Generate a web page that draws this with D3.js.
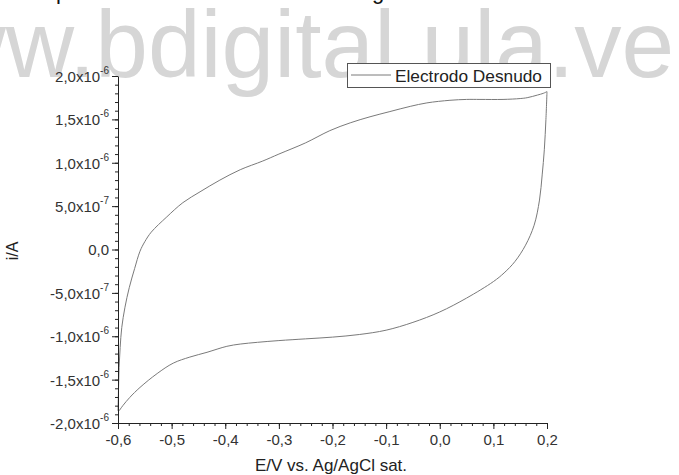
<!DOCTYPE html>
<html lang="es">
<head>
<meta charset="UTF-8">
<title>Electrodo Desnudo</title>
<style>
  body { margin: 0; padding: 0; background: #fff; }
  svg text { font-family: "Liberation Sans", Arial, Helvetica, sans-serif; }
</style>
</head>
<body>
<div id="chart"></div>
<script src="https://cdn.jsdelivr.net/npm/d3@7"></script>
<script>
// barrido directo (E en V, i en µA)
const upperE = [-0.600, -0.599, -0.598, -0.596, -0.593, -0.587, -0.579, -0.569, -0.559, -0.550,
                -0.538, -0.509, -0.479, -0.447, -0.410, -0.372, -0.330, -0.300, -0.250, -0.205,
                -0.167, -0.130, -0.093, -0.055, -0.024, 0.019, 0.050, 0.075, 0.118, 0.150,
                0.163, 0.182, 0.193, 0.200];
const upperI = [-1.86, -1.60, -1.36, -1.13, -0.90, -0.665, -0.44, -0.22, -0.02, 0.09,
                0.20, 0.376, 0.54, 0.665, 0.80, 0.92, 1.02, 1.10, 1.23, 1.37,
                1.46, 1.53, 1.59, 1.65, 1.69, 1.72, 1.73, 1.73, 1.73, 1.74,
                1.75, 1.78, 1.80, 1.82];
// barrido inverso
const lowerE = [0.200, 0.198, 0.195, 0.191, 0.186, 0.176, 0.160, 0.140, 0.120, 0.100,
                0.050, 0.000, -0.050, -0.100, -0.150, -0.200, -0.250, -0.300, -0.340, -0.372,
                -0.397, -0.434, -0.466, -0.497, -0.527, -0.559, -0.578, -0.591, -0.598];
const lowerI = [1.82, 1.50, 1.15, 0.86, 0.57, 0.28, 0.05, -0.14, -0.27, -0.37,
                -0.56, -0.72, -0.84, -0.93, -0.98, -1.01, -1.03, -1.05, -1.07, -1.09,
                -1.116, -1.185, -1.24, -1.31, -1.43, -1.59, -1.705, -1.80, -1.86];

const xTicks = [-0.6, -0.5, -0.4, -0.3, -0.2, -0.1, 0.0, 0.1, 0.2];
const yTicks = [-2e-6, -1.5e-6, -1e-6, -5e-7, 0, 5e-7, 1e-6, 1.5e-6, 2e-6];
const seriesName = "Electrodo Desnudo";
const xTitle = "E/V vs. Ag/AgCl sat.";
const yTitle = "i/A";

const w = 679, h = 475;
const svg = d3.select("#chart").append("svg").attr("width", w).attr("height", h);

// marca de agua y restos del texto de la pagina
svg.append("text").attr("x", -131).attr("y", 77)
  .attr("font-size", 94.7).attr("fill", "#d6d6d6")
  .text("www.bdigital.ula.ve");
svg.append("text").attr("x", 56).attr("y", -1).attr("font-size", 22).attr("fill", "#111").text("p");
svg.append("text").attr("x", 372).attr("y", -1).attr("font-size", 22).attr("fill", "#111").text("g");

const x = d3.scaleLinear().domain([-0.6, 0.2]).range([118, 547]);
const y = d3.scaleLinear().domain([-2e-6, 2e-6]).range([423, 76]);

const pts = upperE.map((e, i) => [e, upperI[i] * 1e-6])
  .concat(lowerE.map((e, i) => [e, lowerI[i] * 1e-6]));

const line = d3.line().x(d => x(d[0])).y(d => y(d[1])).curve(d3.curveCatmullRom.alpha(0.5));
svg.append("path").datum(pts).attr("d", line)
  .attr("fill", "none").attr("stroke", "#7a7a7a").attr("stroke-width", 1);

const fmtX = v => (Math.abs(v) < 1e-9 ? "0,0" : d3.format(".1f")(v).replace(".", ",").replace("−", "-"));

// eje x
const xMinor = d3.range(-0.6, 0.2001, 0.02);
svg.append("g").attr("transform", "translate(0,423)")
  .call(d3.axisBottom(x).tickValues(xMinor).tickSize(3).tickFormat(""))
  .call(g => g.select(".domain").remove());
svg.append("g").attr("transform", "translate(0,423)")
  .call(d3.axisBottom(x).tickValues(xTicks).tickSize(6).tickSizeOuter(0).tickFormat(fmtX).tickPadding(5))
  .call(g => g.selectAll("text").attr("font-size", 15).attr("fill", "#333").attr("font-family", null));

// eje y
const yMinor = d3.range(-20, 20.1, 1).map(v => v * 1e-7);
svg.append("g").attr("transform", "translate(118,0)")
  .call(d3.axisLeft(y).tickValues(yMinor).tickSize(3).tickFormat(""))
  .call(g => g.select(".domain").remove());
const yAxis = svg.append("g").attr("transform", "translate(118,0)")
  .call(d3.axisLeft(y).tickValues(yTicks).tickSize(6).tickSizeOuter(0).tickFormat("").tickPadding(4));
yAxis.selectAll(".tick").each(function (d) {
  const t = d3.select(this).append("text")
    .attr("x", -9).attr("dy", "0.36em").attr("text-anchor", "end")
    .attr("font-size", 15).attr("fill", "#333");
  if (d === 0) { t.text("0,0"); return; }
  const ex = Math.floor(Math.log10(Math.abs(d)) + 1e-9);
  const m = d / Math.pow(10, ex);
  t.append("tspan").text(m.toFixed(1).replace(".", ",") + "x10");
  t.append("tspan").attr("font-size", 10).attr("dy", "-0.8em").text(String(ex));
});
svg.selectAll(".domain").attr("stroke", "#222");
svg.selectAll(".tick line").attr("stroke", "#222");

// titulos
svg.append("text").attr("x", 331).attr("y", 471).attr("text-anchor", "middle")
  .attr("font-size", 17).attr("fill", "#222").text(xTitle);
svg.append("text").attr("transform", "translate(18,251) rotate(-90)").attr("text-anchor", "middle")
  .attr("font-size", 16).attr("fill", "#222").text(yTitle);

// leyenda
const lg = svg.append("g");
lg.append("rect").attr("x", 347.5).attr("y", 63.5).attr("width", 203).attr("height", 24)
  .attr("fill", "#fff").attr("stroke", "#555");
lg.append("line").attr("x1", 351).attr("x2", 391).attr("y1", 75).attr("y2", 75)
  .attr("stroke", "#7a7a7a").attr("stroke-width", 1);
lg.append("text").attr("x", 395).attr("y", 81.5).attr("font-size", 17.3).attr("fill", "#222").text(seriesName);
</script>
</body>
</html>
